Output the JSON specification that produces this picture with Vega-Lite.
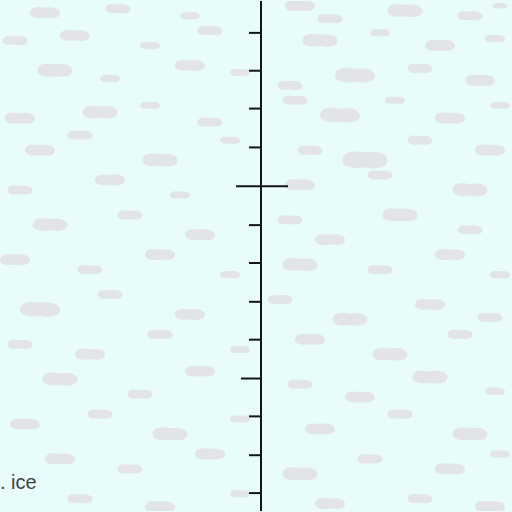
{
  "$schema": "https://vega.github.io/schema/vega-lite/v6.json",
  "width": 512,
  "height": 512,
  "autosize": {"type": "fit", "contains": "padding"},
  "padding": 0,
  "background": "#e8fcfc",
  "view": {"stroke": null, "fill": "#e8fcfc"},
  "datasets": {
    "blobs": [
      {"x": 45, "y": 12, "w": 30}, {"x": 118, "y": 8, "w": 25}, {"x": 190, "y": 15, "w": 20}, {"x": 300, "y": 5, "w": 30},
      {"x": 330, "y": 18, "w": 25}, {"x": 405, "y": 10, "w": 35}, {"x": 470, "y": 15, "w": 25}, {"x": 500, "y": 5, "w": 15},
      {"x": 15, "y": 40, "w": 25}, {"x": 75, "y": 35, "w": 30}, {"x": 150, "y": 45, "w": 20}, {"x": 210, "y": 30, "w": 25},
      {"x": 320, "y": 40, "w": 35}, {"x": 380, "y": 32, "w": 20}, {"x": 440, "y": 45, "w": 30}, {"x": 495, "y": 38, "w": 20},
      {"x": 55, "y": 70, "w": 35}, {"x": 110, "y": 78, "w": 20}, {"x": 190, "y": 65, "w": 30}, {"x": 240, "y": 72, "w": 20},
      {"x": 290, "y": 85, "w": 25}, {"x": 355, "y": 75, "w": 40}, {"x": 420, "y": 68, "w": 25}, {"x": 480, "y": 80, "w": 30},
      {"x": 20, "y": 118, "w": 30}, {"x": 100, "y": 112, "w": 35}, {"x": 150, "y": 105, "w": 20}, {"x": 210, "y": 122, "w": 25},
      {"x": 295, "y": 100, "w": 25}, {"x": 340, "y": 115, "w": 40}, {"x": 395, "y": 100, "w": 20}, {"x": 450, "y": 118, "w": 30},
      {"x": 500, "y": 105, "w": 20}, {"x": 40, "y": 150, "w": 30}, {"x": 80, "y": 135, "w": 25}, {"x": 160, "y": 160, "w": 35},
      {"x": 230, "y": 140, "w": 20}, {"x": 310, "y": 150, "w": 25}, {"x": 365, "y": 160, "w": 45}, {"x": 420, "y": 140, "w": 25},
      {"x": 490, "y": 150, "w": 30}, {"x": 20, "y": 190, "w": 25}, {"x": 110, "y": 180, "w": 30}, {"x": 180, "y": 195, "w": 20},
      {"x": 300, "y": 185, "w": 30}, {"x": 380, "y": 175, "w": 25}, {"x": 470, "y": 190, "w": 35}, {"x": 50, "y": 225, "w": 35},
      {"x": 130, "y": 215, "w": 25}, {"x": 200, "y": 235, "w": 30}, {"x": 290, "y": 220, "w": 25}, {"x": 330, "y": 240, "w": 30},
      {"x": 400, "y": 215, "w": 35}, {"x": 470, "y": 230, "w": 25}, {"x": 15, "y": 260, "w": 30}, {"x": 90, "y": 270, "w": 25},
      {"x": 160, "y": 255, "w": 30}, {"x": 230, "y": 275, "w": 20}, {"x": 300, "y": 265, "w": 35}, {"x": 380, "y": 270, "w": 25},
      {"x": 450, "y": 255, "w": 30}, {"x": 500, "y": 275, "w": 20}, {"x": 40, "y": 310, "w": 40}, {"x": 110, "y": 295, "w": 25},
      {"x": 190, "y": 315, "w": 30}, {"x": 280, "y": 300, "w": 25}, {"x": 350, "y": 320, "w": 35}, {"x": 430, "y": 305, "w": 30},
      {"x": 490, "y": 318, "w": 25}, {"x": 20, "y": 345, "w": 25}, {"x": 90, "y": 355, "w": 30}, {"x": 160, "y": 335, "w": 25},
      {"x": 240, "y": 350, "w": 20}, {"x": 310, "y": 340, "w": 30}, {"x": 390, "y": 355, "w": 35}, {"x": 460, "y": 335, "w": 25},
      {"x": 60, "y": 380, "w": 35}, {"x": 140, "y": 395, "w": 25}, {"x": 200, "y": 372, "w": 30}, {"x": 300, "y": 385, "w": 25},
      {"x": 360, "y": 398, "w": 30}, {"x": 430, "y": 378, "w": 35}, {"x": 495, "y": 392, "w": 20}, {"x": 25, "y": 425, "w": 30},
      {"x": 100, "y": 415, "w": 25}, {"x": 170, "y": 435, "w": 35}, {"x": 240, "y": 420, "w": 20}, {"x": 320, "y": 430, "w": 30},
      {"x": 400, "y": 415, "w": 25}, {"x": 470, "y": 435, "w": 35}, {"x": 60, "y": 460, "w": 30}, {"x": 130, "y": 470, "w": 25},
      {"x": 210, "y": 455, "w": 30}, {"x": 300, "y": 475, "w": 35}, {"x": 370, "y": 460, "w": 25}, {"x": 450, "y": 470, "w": 30},
      {"x": 500, "y": 455, "w": 20}, {"x": 80, "y": 500, "w": 25}, {"x": 160, "y": 508, "w": 30}, {"x": 240, "y": 495, "w": 20},
      {"x": 330, "y": 505, "w": 30}, {"x": 420, "y": 500, "w": 25}, {"x": 490, "y": 508, "w": 30}
    ],
    "ticks": [
      {"y": 32, "x1": 249, "x2": 261},
      {"y": 70, "x1": 249, "x2": 261},
      {"y": 108, "x1": 249, "x2": 261},
      {"y": 147, "x1": 249, "x2": 261},
      {"y": 186, "x1": 236, "x2": 288},
      {"y": 225, "x1": 249, "x2": 261},
      {"y": 263, "x1": 249, "x2": 261},
      {"y": 302, "x1": 249, "x2": 261},
      {"y": 340, "x1": 249, "x2": 261},
      {"y": 379, "x1": 241, "x2": 261},
      {"y": 417, "x1": 249, "x2": 261},
      {"y": 456, "x1": 249, "x2": 261},
      {"y": 494, "x1": 249, "x2": 261}
    ]
  },
  "layer": [
    {
      "data": {"name": "blobs"},
      "mark": {
        "type": "point",
        "filled": true,
        "shape": "M -1 0 C -1 -0.4 -0.5 -0.45 0 -0.35 C 0.5 -0.45 1 -0.3 1 0 C 1 0.35 0.4 0.4 0 0.3 C -0.5 0.4 -1 0.3 -1 0 Z",
        "color": "#e3e4e8",
        "opacity": 1,
        "clip": true
      },
      "encoding": {
        "x": {"field": "x", "type": "quantitative", "scale": {"domain": [0, 512], "nice": false, "zero": false}, "axis": null},
        "y": {"field": "y", "type": "quantitative", "scale": {"domain": [0, 512], "nice": false, "zero": false, "reverse": true}, "axis": null},
        "size": {"field": "w", "type": "quantitative", "scale": {"type": "pow", "exponent": 2, "domain": [0, 60], "range": [0, 3600]}, "legend": null}
      }
    },
    {
      "data": {"values": [{"x": 261, "y": 0, "y2": 512}]},
      "mark": {"type": "rule", "color": "#151515", "strokeWidth": 2},
      "encoding": {
        "x": {"field": "x", "type": "quantitative"},
        "y": {"field": "y", "type": "quantitative"},
        "y2": {"field": "y2"}
      }
    },
    {
      "data": {"name": "ticks"},
      "mark": {"type": "rule", "color": "#151515", "strokeWidth": 2},
      "encoding": {
        "x": {"field": "x1", "type": "quantitative"},
        "x2": {"field": "x2"},
        "y": {"field": "y", "type": "quantitative"}
      }
    },
    {
      "data": {"values": [{"x": 0, "y": 490, "label": ". ice"}]},
      "mark": {"type": "text", "align": "left", "baseline": "alphabetic", "font": "Liberation Sans", "fontSize": 20, "color": "#444444"},
      "encoding": {
        "x": {"field": "x", "type": "quantitative"},
        "y": {"field": "y", "type": "quantitative"},
        "text": {"field": "label"}
      }
    }
  ]
}
